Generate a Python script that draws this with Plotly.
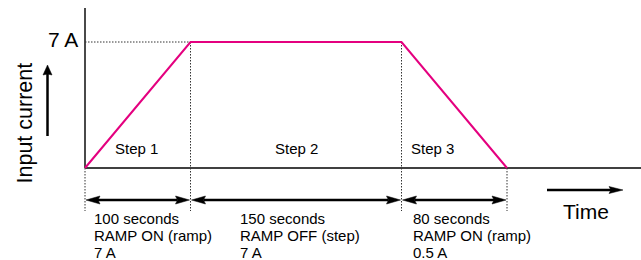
import numpy as np
import plotly.graph_objects as go

# ---------------- data ----------------
step_names = ["Step 1", "Step 2", "Step 3"]
step_durations = ["100 seconds", "150 seconds", "80 seconds"]
step_modes = ["RAMP ON (ramp)", "RAMP OFF (step)", "RAMP ON (ramp)"]
step_currents = ["7 A", "7 A", "0.5 A"]
step_widths = [1, 2, 1]             # schematic (not-to-scale) width of each step
profile_current = [0, 7, 7, 0]      # input current at the step boundaries (A)
level_value = 7
level_label = "7 A"
y_title = "Input current"
x_title = "Time"

# ---------------- geometry / style ----------------
W, H = 641, 260
ORIGIN_PX = (85, 168)      # pixel position of (0, 0)
UNIT_X_PX = 105.5          # pixels per schematic time unit
UNIT_Y_PX = 18.0           # pixels per ampere
MAGENTA = "#E4007F"
FONT = "Liberation Sans, Arial, Helvetica, sans-serif"
DOT = "1.5px,1.5px"


def ux(px):
    return (px - ORIGIN_PX[0]) / UNIT_X_PX


def uy(py):
    return (ORIGIN_PX[1] - py) / UNIT_Y_PX


def dxp(px):
    return px / UNIT_X_PX


def dyp(py):
    return py / UNIT_Y_PX


boundaries = np.concatenate([[0], np.cumsum(step_widths)]).astype(float)

fig = go.Figure()


def line(xs, ys, color="black", width=1.0, dash=None):
    fig.add_trace(go.Scatter(x=list(xs), y=list(ys), mode="lines",
                             line=dict(color=color, width=width, dash=dash),
                             hoverinfo="skip", showlegend=False))


def head(tip_x, tip_y, direction, length_px=14, half_px=4, notch_px=2):
    if direction in ("right", "left"):
        s = 1 if direction == "right" else -1
        bx = tip_x - s * dxp(length_px)
        nx = tip_x - s * dxp(length_px - notch_px)
        xs = [tip_x, bx, nx, bx, tip_x]
        ys = [tip_y, tip_y + dyp(half_px), tip_y, tip_y - dyp(half_px), tip_y]
        back = nx
    else:
        by = tip_y - dyp(length_px)
        ny = tip_y - dyp(length_px - notch_px)
        xs = [tip_x, tip_x - dxp(half_px), tip_x, tip_x + dxp(half_px), tip_x]
        ys = [tip_y, by, ny, by, tip_y]
        back = ny
    fig.add_trace(go.Scatter(x=xs, y=ys, mode="lines", fill="toself",
                             fillcolor="black", line=dict(color="black", width=0.5),
                             hoverinfo="skip", showlegend=False))
    return back


# axes
line([0, 0], [0, uy(8)], color="#4a4a4a", width=2)
line([0, ux(W)], [0, 0], color="black", width=1.5)

# dotted guides
level_end = boundaries[profile_current.index(level_value)]
line([0, level_end], [level_value, level_value], color="#333333", width=1, dash=DOT)
bottom_dot = uy(211)
for bx, cur in zip(boundaries, profile_current):
    line([bx, bx], [cur, bottom_dot], color="#333333", width=1, dash=DOT)

# current profile
line(boundaries, profile_current, color=MAGENTA, width=2)

# duration arrows
arrow_y = uy(200)
for i in range(len(step_widths)):
    lt = boundaries[i] + dxp(1)
    rt = boundaries[i + 1] - dxp(1)
    lb = head(lt, arrow_y, "left")
    rb = head(rt, arrow_y, "right")
    line([lb, rb], [arrow_y, arrow_y], width=2.5)

# y-direction arrow
up_x = ux(47.5)
ub = head(up_x, uy(65), "up", length_px=10, half_px=4.5, notch_px=1)
line([up_x, up_x], [uy(136), ub], width=2.5)

# time arrow
t_y = uy(190)
tb = head(ux(623), t_y, "right", length_px=14, half_px=3.5, notch_px=2)
line([ux(547), tb], [t_y, t_y], width=2.5)

ann = []


def text(x, y, s, size=15, xanchor="center", xshift=0, yshift=0, angle=0):
    ann.append(dict(x=x, y=y, xref="x", yref="y", text=s, showarrow=False,
                    xanchor=xanchor, yanchor="middle", xshift=xshift, yshift=yshift,
                    textangle=angle, font=dict(family=FONT, size=size, color="black")))


# level label and y title
text(ux(80), level_value, level_label, size=21, xanchor="right", yshift=3)
text(ux(24), uy(123.5), y_title, size=21.5, angle=-90)

# step names (inside the chart)
step_name_shift = [(-1.5, "center"), (0, "center"), (7, "left")]
for i, name in enumerate(step_names):
    sh, anc = step_name_shift[i]
    if anc == "center":
        xx = (boundaries[i] + boundaries[i + 1]) / 2
    else:
        xx = boundaries[i]
    text(xx, uy(148), name, size=15, xanchor=anc, xshift=sh)

# step descriptions below the axis
desc_left_px = [8, 48, 10]
desc_rows_py = [218, 235, 252]
for i in range(len(step_names)):
    for row, s in zip(desc_rows_py, [step_durations[i], step_modes[i], step_currents[i]]):
        text(boundaries[i], uy(row), s, size=15, xanchor="left", xshift=desc_left_px[i] - 1)

# x title
text(ux(585.5), uy(211.5), x_title, size=21)

fig.update_layout(
    width=W, height=H,
    margin=dict(l=0, r=0, t=0, b=0),
    paper_bgcolor="white", plot_bgcolor="white",
    xaxis=dict(visible=False, range=[ux(0), ux(W)], fixedrange=True),
    yaxis=dict(visible=False, range=[uy(H), uy(0)], fixedrange=True),
    annotations=ann,
    showlegend=False,
)

fig.write_html(
    "out.html",
    config={"displayModeBar": False},
    post_script="document.body.style.margin='0';document.body.style.overflow='hidden';",
)
